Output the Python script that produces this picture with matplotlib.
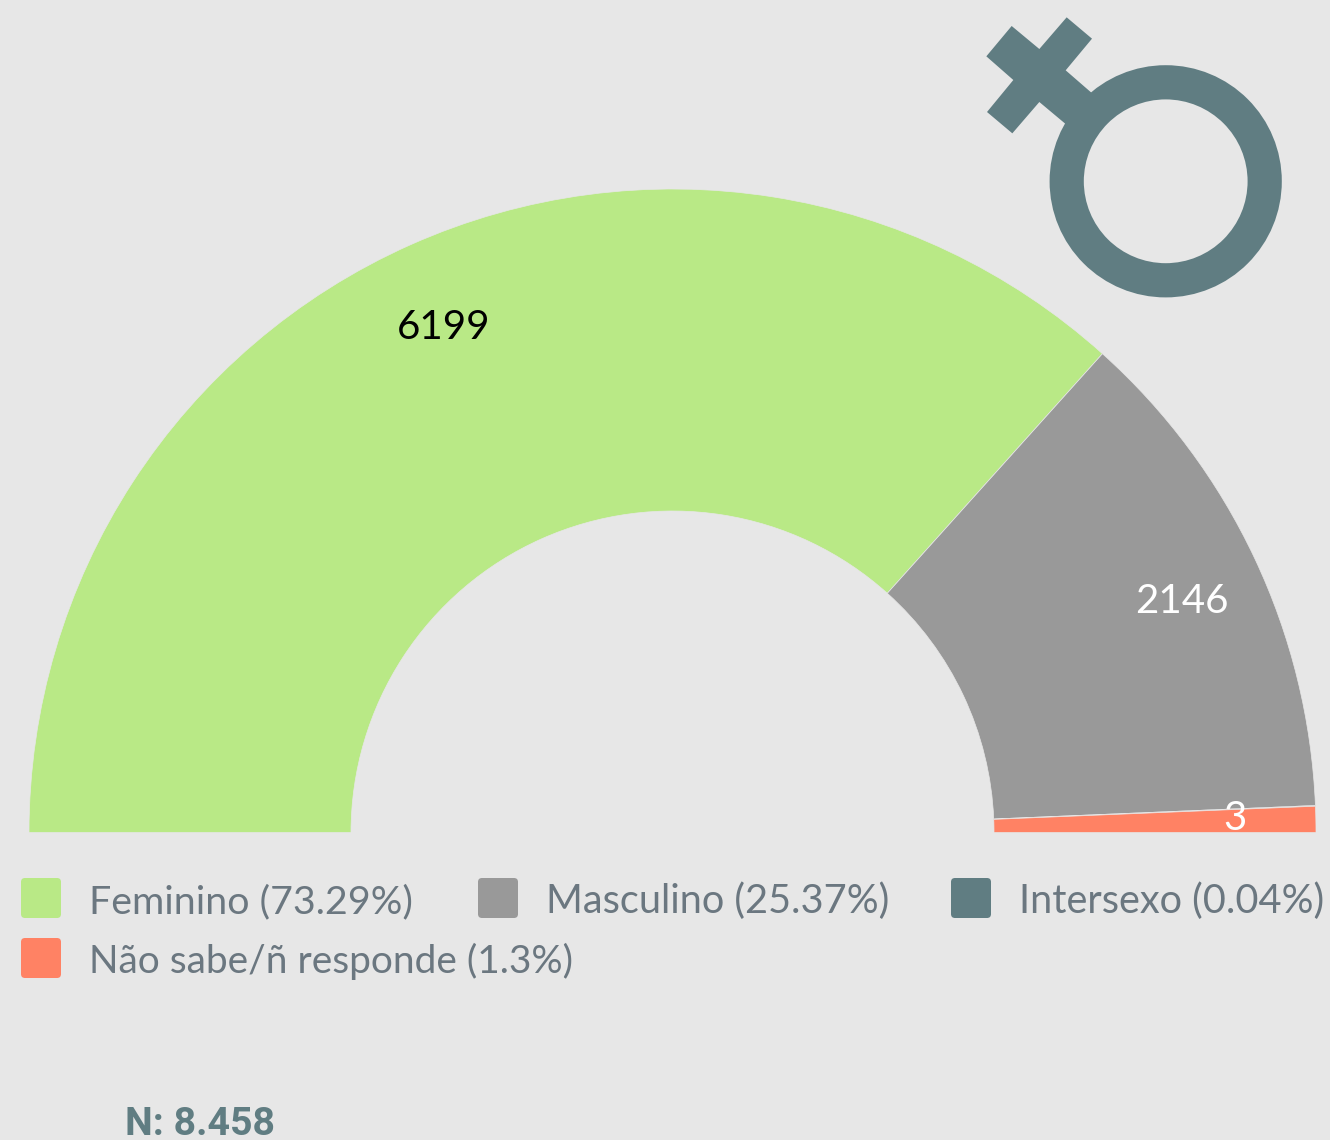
import numpy as np
import matplotlib
matplotlib.use("Agg")
import matplotlib.pyplot as plt
from matplotlib.patches import Circle, Polygon, FancyBboxPatch

categories = ["Feminino", "Masculino", "Intersexo", "Não sabe/ñ responde"]
values = [6199, 2146, 3, 110]
percents = ["73.29", "25.37", "0.04", "1.3"]
data_labels = ["6199", "2146", "3", None]
label_colors = ["black", "white", "white", None]
colors = ["#b9e986", "#999999", "#607d82", "#ff8264"]
total_text = "N: 8.458"

BG = "#e7e7e7"
W, H = 1330, 1140
CX, CY = 672.5, 832.5
R_OUT, R_IN = 643.5, 321.5


def py(y):
    # pixel y from the top -> axes y
    return H - y


fig = plt.figure(figsize=(W / 100, H / 100), dpi=100, facecolor=BG)
ax = fig.add_axes([0, 0, 1, 1])

# half donut
vals = np.array(values, dtype=float)
fracs = vals / vals.sum() / 2
ax.pie(fracs, normalize=False, startangle=180, counterclock=False, colors=colors,
       radius=R_OUT, center=(CX, py(CY)),
       wedgeprops=dict(width=R_OUT - R_IN, edgecolor="#e7e7e7", linewidth=0.5))
ax.set_xlim(0, W)
ax.set_ylim(0, H)
ax.set_aspect("auto")
ax.axis("off")

# data labels
mids = 180 - (np.cumsum(fracs) - fracs / 2) * 360
for lab, col, ang in zip(data_labels, label_colors, mids):
    if lab is None:
        continue
    a = np.radians(ang)
    ax.text(CX + 563 * np.cos(a), py(CY) + 563 * np.sin(a) - 6, lab, color=col,
            family="Lato", fontsize=29, ha="center", va="center_baseline")

# gender icon
icon = "#607d82"
ax.add_patch(Polygon([(x / 3 + 960, py(y / 3)) for x, y in [
    (155, 78), (238, 147), (320, 52), (396, 116), (317, 211), (408, 290), (330, 383),
    (238, 306), (157, 400), (81, 336), (160, 240), (79, 169)]], fc=icon, ec="none"))
ax.add_patch(Circle((1165.7, py(181.3)), 99, fc="none", ec=icon, linewidth=34.2 * 0.72))

# legend
leg_x = [21, 478, 951, 21]
leg_y = [878, 878, 878, 938]
leg_size = [28.35, 28.6, 28.6, 28.0]
for name, pct, col, x, y, fs in zip(categories, percents, colors, leg_x, leg_y, leg_size):
    ax.add_patch(FancyBboxPatch((x + 3, py(y + 37)), 34, 34, boxstyle="round,pad=3,rounding_size=4",
                                fc=col, ec="none"))
    ax.text(x + 68, py(y + 35), f"{name} ({pct}%)", color="#6b7780", family="Lato",
            fontsize=fs, ha="left", va="baseline")

ax.text(125, py(1135), total_text, color=icon, family="Roboto", fontweight="bold",
        fontsize=28.4, ha="left", va="baseline")

fig.savefig("out.png", dpi=100, facecolor=BG)
